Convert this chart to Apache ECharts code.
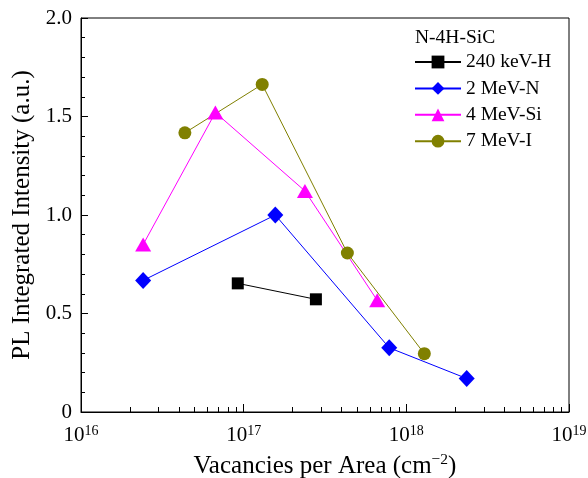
<!DOCTYPE html>
<html><head><meta charset="utf-8">
<script src="https://cdn.jsdelivr.net/npm/echarts@6/dist/echarts.min.js"></script>
<style>html,body{margin:0;padding:0;background:#fff}#c{width:588px;height:478px}</style>
</head><body><div id="c"></div>
<script>
const seriesNames = ['240 keV-H', '2 MeV-N', '4 MeV-Si', '7 MeV-I'];
const hX = [9.2e16, 2.78e17];
const hY = [0.653, 0.572];
const nX = [2.41e16, 1.565e17, 7.85e17, 2.35e18];
const nY = [0.668, 1.0, 0.326, 0.170];
const siX = [2.41e16, 6.7e16, 2.38e17, 6.62e17];
const siY = [0.85, 1.52, 1.122, 0.567];
const iX = [4.35e16, 1.30e17, 4.34e17, 1.29e18];
const iY = [1.417, 1.663, 0.807, 0.296];
const xMajorTicks = [1e16, 1e17, 1e18, 1e19];
const xTickExponents = ['16', '17', '18', '19'];
const yTickLabels = ['0', '0.5', '1.0', '1.5', '2.0'];
const legendTitle = 'N-4H-SiC';

const FONT = "'Liberation Serif', 'Times New Roman', serif";
const xMinor = [];
for (let d = 0; d < xMajorTicks.length - 1; d++) {
  for (let k = 2; k <= 9; k++) xMinor.push(k * xMajorTicks[d]);
}
function pairs(xs, ys) { return xs.map((x, i) => [x, ys[i]]); }

const chart = echarts.init(document.getElementById('c'), null, {renderer: 'canvas'});
const common = {type: 'line', xAxisIndex: 0, yAxisIndex: 0, lineStyle: {width: 1}, showSymbol: true};
chart.setOption({
  animation: false,
  backgroundColor: '#fff',
  textStyle: {fontFamily: FONT},
  title: {
    text: legendTitle, left: 415, top: 28, padding: 0,
    textStyle: {fontFamily: FONT, fontSize: 19.5, fontWeight: 'normal', color: '#000'}
  },
  legend: {
    orient: 'vertical', left: 414, top: 52, padding: 0,
    itemWidth: 46, itemHeight: 16, itemGap: 6.4,
    textStyle: {fontFamily: FONT, fontSize: 19.5, color: '#000'},
    data: seriesNames
  },
  grid: {left: 81, right: 19, top: 18, bottom: 66, show: true, borderColor: '#000', borderWidth: 1,
    containLabel: false, outerBoundsMode: 'none'},
  xAxis: [{
    type: 'log', logBase: 10, min: 1e16, max: 1e19,
    name: 'Vacancies per Area (cm{sup|\u22122})',
    nameLocation: 'middle', nameGap: 40,
    nameTextStyle: {fontFamily: FONT, fontSize: 25, color: '#000',
      rich: {sup: {fontFamily: FONT, fontSize: 15.5, color: '#000', verticalAlign: 'top', padding: [0, 0, 12, 0]}}},
    axisLine: {show: true, lineStyle: {color: '#000', width: 1}},
    axisTick: {show: true, inside: true, length: 8, lineStyle: {color: '#000'}, customValues: xMajorTicks},
    axisLabel: {
      customValues: xMajorTicks,
      margin: 12, color: '#000', fontFamily: FONT, fontSize: 21,
      formatter: function (v) {
        const i = xMajorTicks.findIndex(t => Math.abs(Math.log10(t) - Math.log10(v)) < 1e-6);
        return '{b|10}{s|' + xTickExponents[i] + '}';
      },
      rich: {
        b: {fontFamily: FONT, fontSize: 21, color: '#000'},
        s: {fontFamily: FONT, fontSize: 14, color: '#000', verticalAlign: 'top', padding: [0, 0, 9, 0]}
      }
    },
    splitLine: {show: false}
  }, {
    type: 'log', logBase: 10, min: 1e16, max: 1e19, gridIndex: 0, position: 'bottom',
    axisLine: {show: false},
    axisTick: {show: true, inside: true, length: 5, lineStyle: {color: '#000'}, customValues: xMinor},
    axisLabel: {show: false},
    splitLine: {show: false}
  }],
  yAxis: {
    type: 'value', min: 0, max: 2, interval: 0.5,
    name: 'PL Integrated Intensity (a.u.)',
    nameLocation: 'middle', nameGap: 44,
    nameTextStyle: {fontFamily: FONT, fontSize: 25, color: '#000'},
    axisLine: {show: true, lineStyle: {color: '#000', width: 1}},
    axisTick: {show: true, inside: true, length: 7, lineStyle: {color: '#000'}},
    minorTick: {show: true, splitNumber: 5, length: 4, lineStyle: {color: '#000'}},
    axisLabel: {
      color: '#000', fontFamily: FONT, fontSize: 21, margin: 9,
      formatter: function (v) { return yTickLabels[Math.round(v / 0.5)]; }
    },
    splitLine: {show: false}
  },
  series: [
    Object.assign({}, common, {name: seriesNames[0], data: pairs(hX, hY), symbol: 'rect', symbolSize: 12,
      itemStyle: {color: '#000'}, lineStyle: {width: 1, color: '#000'}}),
    Object.assign({}, common, {name: seriesNames[1], data: pairs(nX, nY), symbol: 'diamond', symbolSize: [16, 17],
      itemStyle: {color: '#0000ff'}, lineStyle: {width: 1, color: '#0000ff'}}),
    Object.assign({}, common, {name: seriesNames[2], data: pairs(siX, siY), symbol: 'triangle', symbolSize: [16, 14],
      itemStyle: {color: '#ff00ff'}, lineStyle: {width: 1, color: '#ff00ff'}}),
    Object.assign({}, common, {name: seriesNames[3], data: pairs(iX, iY), symbol: 'circle', symbolSize: 13,
      itemStyle: {color: '#808000'}, lineStyle: {width: 1, color: '#808000'}})
  ]
});
</script>
</body></html>
